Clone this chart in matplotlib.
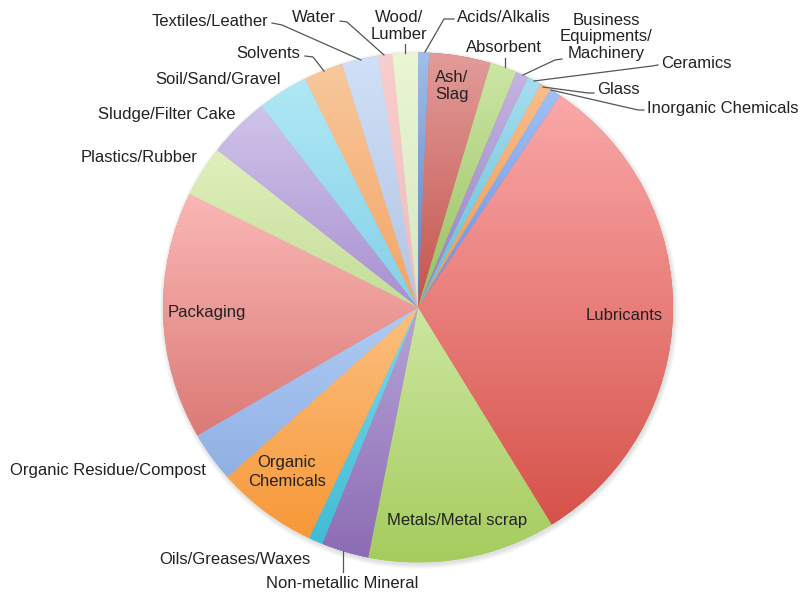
import numpy as np
import matplotlib
matplotlib.use("Agg")
import matplotlib.pyplot as plt
from matplotlib.colors import to_rgb
from matplotlib.patches import Circle

# slices, clockwise from 12 o'clock (share of total, %)
categories = ["Acids/Alkalis", "Ash/Slag", "Absorbent", "Business Equipments/Machinery",
              "Ceramics", "Glass", "Inorganic Chemicals", "Lubricants",
              "Metals/Metal scrap", "Non-metallic Mineral", "Oils/Greases/Waxes",
              "Organic Chemicals", "Organic Residue/Compost", "Packaging",
              "Plastics/Rubber", "Sludge/Filter Cake", "Soil/Sand/Gravel",
              "Solvents", "Textiles/Leather", "Water", "Wood/Lumber"]
shares = [0.7, 3.9, 1.7, 0.8, 0.9, 0.7, 0.7, 31.8, 11.9, 3.0, 0.9,
          6.4, 3.2, 15.7, 3.25, 3.9, 3.2, 2.5, 2.3, 0.9, 1.6]

# gradient fill of each slice: colour at its top, colour at its bottom
top_colors = ["#a2bee8", "#e29c9a", "#cce6a4", "#c4b4e0", "#a8dcee", "#f8bc8c",
              "#a0c0f4", "#faa8a8", "#cce6a0", "#b8a4d8", "#80d8ec", "#fcc080",
              "#b0ccf4", "#fab8b6", "#e0f0bc", "#d0c4ea", "#b0e8f6", "#f8c89c",
              "#cfe0f8", "#f9cece", "#eaf6d4"]
bottom_colors = ["#5a7cbc", "#c4544e", "#98c060", "#9480c0", "#60c0d8", "#f09850",
                 "#6890e0", "#d6524a", "#a6cc5e", "#8c6cb4", "#40bcd4", "#f89838",
                 "#90b0e4", "#dc7a76", "#c4dc98", "#a890d0", "#84d0e8", "#f4a464",
                 "#b4c4e2", "#eebcbc", "#d6e6c2"]

W, H = 800, 595
cx, cy, R = 418, H - 307.5, 255


def P(x, y):
    # picture pixel -> data coords
    return x, H - y


fig = plt.figure(figsize=(8, 5.95), dpi=100)
ax = fig.add_axes([0, 0, 1, 1])

# soft shadow round the pie
for i in range(6):
    ax.add_patch(Circle((cx + 1, cy - 2), R + 0.5 + i * 0.8, color="#000000",
                        alpha=0.018, lw=0, zorder=0))

wedges, _ = ax.pie(shares, startangle=90, counterclock=False,
                   center=(cx, cy), radius=R, frame=True, colors=bottom_colors,
                   wedgeprops=dict(linewidth=0, zorder=1))

tt = np.linspace(0, 1, 200)[:, None]
for w, c0, c1 in zip(wedges, top_colors, bottom_colors):
    ext = w.get_path().get_extents()
    grad = (1 - tt) * np.array(to_rgb(c0)) + tt * np.array(to_rgb(c1))
    im = ax.imshow(grad.reshape(-1, 1, 3), extent=(ext.x0, ext.x1, ext.y0, ext.y1),
                   aspect="auto", interpolation="bilinear", zorder=2)
    im.set_clip_path(w)

txt = dict(fontsize=12, color="#222222", family=["Liberation Sans", "DejaVu Sans"])
lc = dict(color="#555555", lw=0.9, zorder=3)

# labels inside the slices
ax.text(*P(452, 86), "Ash/\nSlag", ha="center", va="center", linespacing=1.25, **txt)
ax.text(*P(624, 315), "Lubricants", ha="center", va="center", **txt)
ax.text(*P(457, 520), "Metals/Metal scrap", ha="center", va="center", **txt)
ax.text(*P(287, 472), "Organic\nChemicals", ha="center", va="center", linespacing=1.25, **txt)
ax.text(*P(207, 313), "Packaging", ha="center", va="center", **txt)

# labels outside, with leader lines
outside = [
    ("Acids/Alkalis", (457, 18), "left", [(454, 19), (444, 19), (425, 52)]),
    ("Wood/\nLumber", (399, 26), "center", [(405, 44), (405, 53)]),
    ("Water", (336, 18), "right", [(340, 21), (347, 22), (384, 55)]),
    ("Textiles/Leather", (268, 21), "right", [(272, 23), (282, 25), (361, 60)]),
    ("Solvents", (300, 53), "right", [(305, 56), (313, 57), (324, 71)]),
    ("Soil/Sand/Gravel", (281, 80), "right", None),
    ("Sludge/Filter Cake", (236, 115), "right", None),
    ("Plastics/Rubber", (198, 158), "right", None),
    ("Organic Residue/Compost", (206, 470), "right", None),
    ("Oils/Greases/Waxes", (310, 559), "right", None),
    ("Non-metallic Mineral", (342, 583), "center", [(343, 551), (343, 572)]),
    ("Absorbent", (504, 47), "center", [(505, 58), (505, 67)]),
    ("Business\nEquipments/\nMachinery", (606, 37), "center", [(562, 59), (555, 60), (523, 75)]),
    ("Ceramics", (661, 63), "left", [(658, 65), (652, 66), (534, 81)]),
    ("Glass", (597, 90), "left", [(594, 93), (588, 93), (543, 87)]),
    ("Inorganic Chemicals", (647, 108), "left", [(644, 110), (638, 110), (551, 90)]),
]
for lab, pos, ha, pts in outside:
    ax.text(*P(*pos), lab, ha=ha, va="center", linespacing=1.15, **txt)
    if pts:
        xs, ys = zip(*[P(*p) for p in pts])
        ax.plot(xs, ys, **lc)

ax.set_xlim(0, W)
ax.set_ylim(0, H)
ax.set_aspect("auto")
ax.axis("off")

fig.savefig("out.png", dpi=100)
